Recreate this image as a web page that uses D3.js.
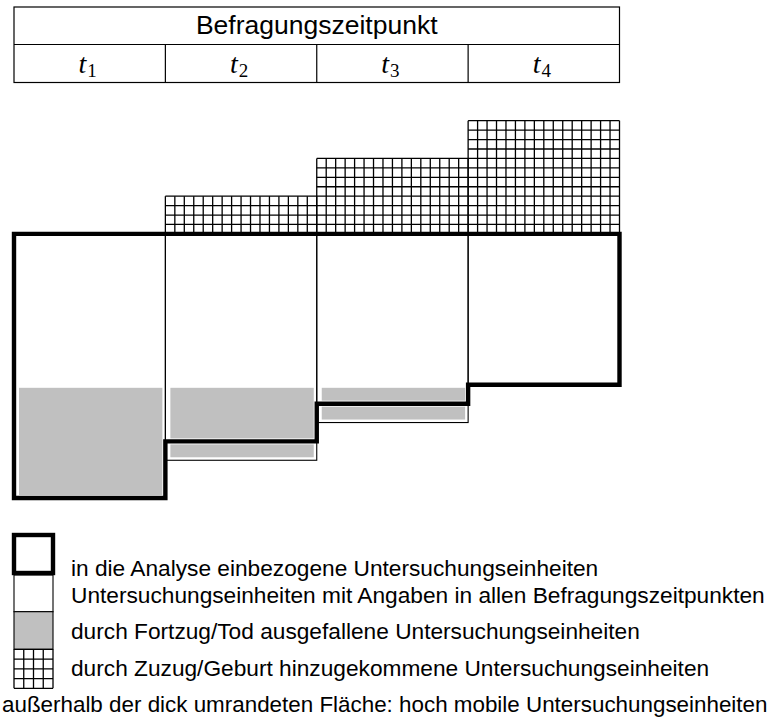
<!DOCTYPE html>
<html>
<head>
<meta charset="utf-8">
<script src="https://cdn.jsdelivr.net/npm/d3@7"></script>
<style>
    body { margin: 0; background: #fff; }
    svg { display: block; }
    .sans { font-family: "Liberation Sans", Arial, sans-serif; fill: #000; }
    .math { font-family: "Liberation Serif", "DejaVu Serif", serif; fill: #000; }
</style>
</head>
<body>
<svg id="chart" width="781" height="728"></svg>
<script>
// data
var headerTitle = 'Befragungszeitpunkt';
var timepoints = ['1', '2', '3', '4'];          // t_1 .. t_4
var included = [28, 22, 18, 16];               // lower edge of the thick outline per time point
var present = [28, 24, 20, 16];                // units with answers per time point
var added = [0, 4, 8, 12];                     // units added by Zuzug/Geburt
var dropped = [[0, 16, 28], [1, 16, 22], [1, 22, 24], [2, 16, 18], [2, 18, 20]]; // [t, from, to]
var legendTexts = [
    'in die Analyse einbezogene Untersuchungseinheiten',
    'Untersuchungseinheiten mit Angaben in allen Befragungszeitpunkten',
    'durch Fortzug/Tod ausgefallene Untersuchungseinheiten',
    'durch Zuzug/Geburt hinzugekommene Untersuchungseinheiten'
];
var footText = 'außerhalb der dick umrandeten Fläche: hoch mobile Untersuchungseinheiten';

var gray = '#c0c0c0';
var cellsPerColumn = 16;

var svg = d3.select('#chart');

var xScale = d3.scaleLinear()
    .domain([0, timepoints.length])
    .range([14, 619.5]);

var yScale = d3.scaleLinear()
    .domain([-12, 28])
    .range([120.7, 498]);

// header table
var header = svg.append('g');
var headTop = 7, headMid = 44.5, headBottom = 82.5;

header.append('rect')
    .attr('x', xScale(0))
    .attr('y', headTop)
    .attr('width', xScale(timepoints.length) - xScale(0))
    .attr('height', headBottom - headTop)
    .attr('fill', 'none')
    .attr('stroke', '#000')
    .attr('stroke-width', 1.2);
header.append('line')
    .attr('x1', xScale(0)).attr('x2', xScale(timepoints.length))
    .attr('y1', headMid).attr('y2', headMid)
    .attr('stroke', '#000').attr('stroke-width', 1.2);
header.selectAll('line.sep')
    .data(d3.range(1, timepoints.length))
    .enter()
    .append('line')
    .classed('sep', true)
    .attr('x1', d => xScale(d)).attr('x2', d => xScale(d))
    .attr('y1', headMid).attr('y2', headBottom)
    .attr('stroke', '#000').attr('stroke-width', 1.2);
header.append('text')
    .classed('sans', true)
    .attr('x', (xScale(0) + xScale(timepoints.length)) / 2)
    .attr('y', 34)
    .attr('text-anchor', 'middle')
    .style('font-size', '26.5px')
    .text(headerTitle);

var tLabels = header.selectAll('text.t')
    .data(timepoints)
    .enter()
    .append('text')
    .classed('math t', true)
    .attr('x', (d, i) => xScale(i + 0.5) - 2)
    .attr('y', 73)
    .attr('text-anchor', 'middle');
tLabels.append('tspan')
    .style('font-size', '28px')
    .style('font-style', 'italic')
    .text('t');
tLabels.append('tspan')
    .attr('dy', 3.5)
    .attr('dx', 1)
    .style('font-size', '19px')
    .text(d => d);

// diagram
var g = svg.append('g');

// grey dropout blocks
g.selectAll('rect.dropped')
    .data(dropped)
    .enter()
    .append('rect')
    .classed('dropped', true)
    .attr('x', d => xScale(d[0]) + 5)
    .attr('y', d => yScale(d[1]) + 3)
    .attr('width', d => xScale(d[0] + 1) - xScale(d[0]) - 8)
    .attr('height', d => yScale(d[2]) - yScale(d[1]) - 6)
    .attr('fill', gray);

// thin frames for units present at each time point
g.selectAll('rect.present')
    .data(present)
    .enter()
    .append('rect')
    .classed('present', true)
    .attr('x', (d, i) => xScale(i))
    .attr('y', yScale(0))
    .attr('width', (d, i) => xScale(i + 1) - xScale(i))
    .attr('height', d => yScale(d) - yScale(0))
    .attr('fill', 'none')
    .attr('stroke', '#000')
    .attr('stroke-width', 1.1);

// hatched grid for added units
function drawGrid(parent, x0, x1, y0, y1, nx, ny) {
    var gx = d3.scaleLinear().domain([0, nx]).range([x0, x1]);
    var gy = d3.scaleLinear().domain([0, ny]).range([y0, y1]);
    parent.selectAll(null)
        .data(d3.range(0, nx + 1))
        .enter()
        .append('line')
        .attr('x1', d => gx(d)).attr('x2', d => gx(d))
        .attr('y1', y0).attr('y2', y1)
        .attr('stroke', '#000').attr('stroke-width', 1.3);
    parent.selectAll(null)
        .data(d3.range(0, ny + 1))
        .enter()
        .append('line')
        .attr('x1', x0).attr('x2', x1)
        .attr('y1', d => gy(d)).attr('y2', d => gy(d))
        .attr('stroke', '#000').attr('stroke-width', 1.3);
}

added.forEach((a, i) => {
    if (a === 0) return;
    drawGrid(g.append('g'), xScale(i), xScale(i + 1), yScale(-a), yScale(0), cellsPerColumn, a);
});

// thick outline of the included units
var outline = [[0, 0], [timepoints.length, 0]];
for (let i = timepoints.length - 1; i >= 0; i--) {
    outline.push([i + 1, included[i]]);
    outline.push([i, included[i]]);
}
var lineGen = d3.line()
    .x(d => xScale(d[0]))
    .y(d => yScale(d[1]));
g.append('path')
    .attr('d', lineGen(outline) + 'Z')
    .attr('fill', 'none')
    .attr('stroke', '#000')
    .attr('stroke-width', 4.4)
    .attr('stroke-linejoin', 'miter');

// legend
var legend = svg.append('g');
var lx = xScale(0), lw = 39;
var boxes = [[535, 573], [575, 611.7], [611.7, 649.3], [649.3, 688.3]];

legend.append('rect')
    .attr('x', lx).attr('y', boxes[0][0])
    .attr('width', lw).attr('height', boxes[0][1] - boxes[0][0])
    .attr('fill', 'none').attr('stroke', '#000').attr('stroke-width', 4.4);
legend.append('rect')
    .attr('x', lx).attr('y', boxes[1][0])
    .attr('width', lw).attr('height', boxes[1][1] - boxes[1][0])
    .attr('fill', 'none').attr('stroke', '#000').attr('stroke-width', 1.1);
legend.append('rect')
    .attr('x', lx).attr('y', boxes[2][0])
    .attr('width', lw).attr('height', boxes[2][1] - boxes[2][0])
    .attr('fill', gray).attr('stroke', '#000').attr('stroke-width', 1.1);
drawGrid(legend.append('g'), lx, lx + lw, boxes[3][0], boxes[3][1], 4, 4);

var textBaselines = [576, 603, 639, 676];
legend.selectAll('text.item')
    .data(legendTexts)
    .enter()
    .append('text')
    .classed('sans item', true)
    .attr('x', 71)
    .attr('y', (d, i) => textBaselines[i])
    .style('font-size', '22.7px')
    .text(d => d);
legend.append('text')
    .classed('sans', true)
    .attr('x', 2)
    .attr('y', 712)
    .style('font-size', '22.4px')
    .text(footText);
</script>
</body>
</html>
